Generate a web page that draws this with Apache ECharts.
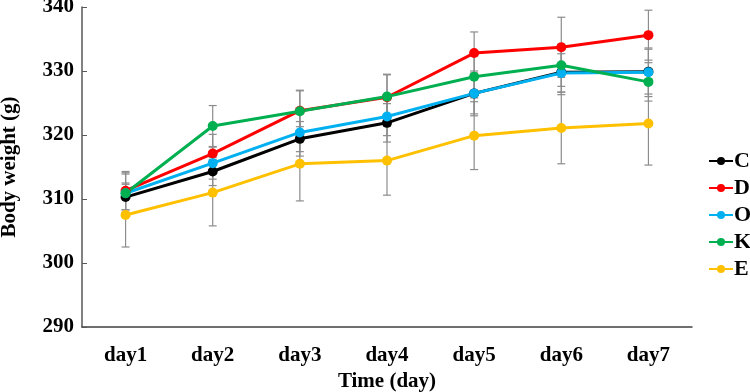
<!DOCTYPE html>
<html>
<head>
<meta charset="utf-8">
<script src="https://cdn.jsdelivr.net/npm/echarts@6/dist/echarts.min.js"></script>
<style>html,body{margin:0;padding:0;background:#fff;}#c{width:750px;height:392px;}</style>
</head>
<body>
<div id="c"></div>
<script>
const days = ['day1','day2','day3','day4','day5','day6','day7'];
const yTicks = [290, 300, 310, 320, 330, 340];
const seriesNames = ['C','D','O','K','E'];
const C_mean = [310.3, 314.3, 319.4, 321.9, 326.5, 329.8, 329.9];
const D_mean = [311.3, 317.1, 323.8, 325.9, 332.8, 333.7, 335.6];
const O_mean = [310.9, 315.6, 320.4, 322.9, 326.5, 329.7, 329.8];
const K_mean = [310.9, 321.4, 323.7, 326.0, 329.1, 330.9, 328.3];
const E_mean = [307.5, 311.0, 315.5, 316.0, 319.9, 321.1, 321.8];
const C_sd = [2.0, 2.2, 2.7, 3.0, 3.2, 3.5, 3.5];
const D_sd = [3.0, 3.0, 3.2, 3.5, 3.3, 4.7, 3.9];
const O_sd = [3.0, 2.5, 3.0, 3.0, 3.5, 3.0, 3.8];
const K_sd = [3.2, 3.2, 3.2, 3.5, 3.3, 3.3, 3.0];
const E_sd = [5.0, 5.2, 5.8, 5.4, 5.3, 5.6, 6.5];

const means = [C_mean, D_mean, O_mean, K_mean, E_mean];
const sds = [C_sd, D_sd, O_sd, K_sd, E_sd];
const colors = ['#000000', '#FF0000', '#00B0F0', '#00B050', '#FFC000'];
const font = '"Liberation Serif", "Times New Roman", serif';

const chart = echarts.init(document.getElementById('c'));

const errSeries = means.map((m, si) => ({
  type: 'custom',
  name: 'err' + si,
  z: 1,
  silent: true,
  data: m.map((v, i) => [i, v - sds[si][i], v + sds[si][i]]),
  renderItem: function (params, api) {
    const lo = api.coord([api.value(0), api.value(1)]);
    const hi = api.coord([api.value(0), api.value(2)]);
    const w = 4;
    const style = { stroke: '#8C8C8C', lineWidth: 1.2 };
    return {
      type: 'group',
      children: [
        { type: 'line', shape: { x1: lo[0], y1: lo[1], x2: hi[0], y2: hi[1] }, style: style },
        { type: 'line', shape: { x1: lo[0] - w, y1: lo[1], x2: lo[0] + w, y2: lo[1] }, style: style },
        { type: 'line', shape: { x1: hi[0] - w, y1: hi[1], x2: hi[0] + w, y2: hi[1] }, style: style }
      ]
    };
  }
}));

const lineSeries = means.map((m, si) => ({
  type: 'line',
  name: seriesNames[si],
  data: m,
  z: 3,
  symbol: 'circle',
  symbolSize: 10,
  color: colors[si],
  lineStyle: { width: 3, color: colors[si] },
  itemStyle: { color: colors[si] }
}));

chart.setOption({
  animation: false,
  backgroundColor: '#ffffff',
  grid: { left: 82, right: 58, top: 7, bottom: 65, containLabel: false, outerBoundsMode: 'none' },
  legend: {
    orient: 'vertical',
    left: 703,
    top: 145,
    itemWidth: 24,
    itemHeight: 10,
    itemGap: 5,
    data: seriesNames,
    textStyle: { fontFamily: font, fontWeight: 'bold', fontSize: 22, color: '#000', padding: [0,0,0,-4] }
  },
  xAxis: {
    type: 'category',
    data: days,
    boundaryGap: true,
    name: 'Time (day)',
    nameLocation: 'middle',
    nameGap: 43,
    nameTextStyle: { fontFamily: font, fontWeight: 'bold', fontSize: 21, color: '#000' },
    axisLine: { lineStyle: { color: '#404040', width: 1.5 } },
    axisTick: { inside: true, length: 5, lineStyle: { color: '#404040' } },
    axisLabel: { fontFamily: font, fontWeight: 'bold', fontSize: 21, color: '#000', margin: 18 }
  },
  yAxis: {
    type: 'value',
    min: yTicks[0],
    max: yTicks[yTicks.length - 1],
    interval: 10,
    name: 'Body weight (g)',
    nameLocation: 'middle',
    nameGap: 62,
    nameTextStyle: { fontFamily: font, fontWeight: 'bold', fontSize: 21, color: '#000' },
    axisLine: { show: true, lineStyle: { color: '#595959', width: 1.5 } },
    axisTick: { show: true, inside: true, length: 5, lineStyle: { color: '#595959' } },
    splitLine: { show: false },
    axisLabel: { fontFamily: font, fontWeight: 'bold', fontSize: 21, color: '#000', margin: 8 }
  },
  series: errSeries.concat(lineSeries)
});
</script>
</body>
</html>
